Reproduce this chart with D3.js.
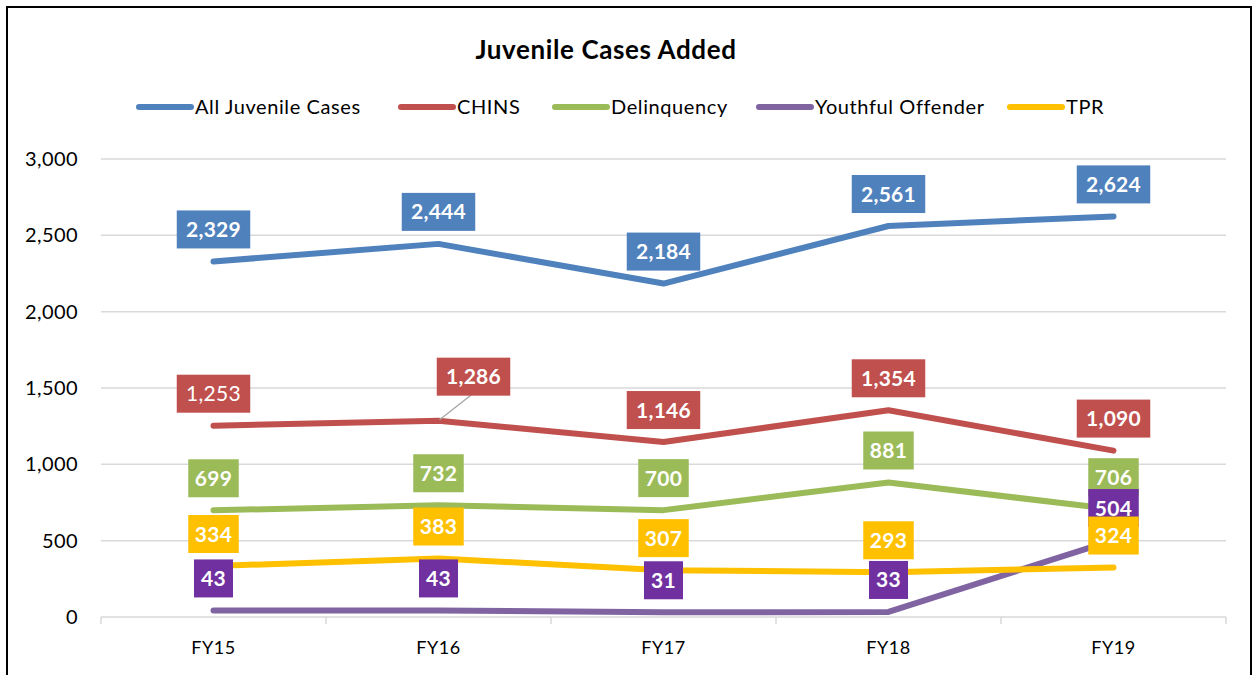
<!DOCTYPE html>
<html>
<head>
<meta charset="utf-8">
<script src="https://cdn.jsdelivr.net/npm/d3@7"></script>
<style>
  body { margin: 0; background: #fff; }
  svg { font-family: Lato, "Open Sans", sans-serif; }
</style>
</head>
<body>
<div class="chartHolder"></div>
<script>
// data
const years = ["FY15", "FY16", "FY17", "FY18", "FY19"];
const allCases = [2329, 2444, 2184, 2561, 2624];
const chins = [1253, 1286, 1146, 1354, 1090];
const delinquency = [699, 732, 700, 881, 706];
const youthful = [43, 43, 31, 33, 504];
const tpr = [334, 383, 307, 293, 324];
const yTicks = [0, 500, 1000, 1500, 2000, 2500, 3000];

const series = [
  { name: "All Juvenile Cases", values: allCases, line: "#4F81BD", box: "#4F81BD" },
  { name: "CHINS", values: chins, line: "#C0504D", box: "#C0504D" },
  { name: "Delinquency", values: delinquency, line: "#9BBB59", box: "#9BBB59" },
  { name: "Youthful Offender", values: youthful, line: "#8064A2", box: "#7030A0" },
  { name: "TPR", values: tpr, line: "#FFC000", box: "#FFC000" }
];

const w = 1253, h = 675;
const margin = { top: 159, right: 27, bottom: 58, left: 101 };
const width = w - margin.left - margin.right;
const height = h - margin.top - margin.bottom;

const root = d3.select(".chartHolder").append("svg")
  .attr("width", w)
  .attr("height", h);

// outer frame
root.append("rect")
  .attr("x", 7).attr("y", 7)
  .attr("width", 1244).attr("height", 680)
  .attr("fill", "none")
  .attr("stroke", "#000")
  .attr("stroke-width", 2);

// title
root.append("text")
  .attr("x", 606).attr("y", 59)
  .attr("text-anchor", "middle")
  .attr("font-size", 26)
  .attr("letter-spacing", 0.6)
  .attr("font-weight", "bold")
  .text("Juvenile Cases Added");

// legend
const legendX = [136, 398, 552, 756, 1007];
const legend = root.append("g");
series.forEach((s, i) => {
  const g = legend.append("g").attr("transform", `translate(${legendX[i]},107)`);
  g.append("line")
    .attr("x1", 3).attr("x2", 55)
    .attr("stroke", s.line)
    .attr("stroke-width", 6)
    .attr("stroke-linecap", "round");
  g.append("text")
    .attr("x", 59).attr("y", 7)
    .attr("font-size", 20)
    .attr("letter-spacing", 0.6)
    .attr("fill", "#000")
    .text(s.name);
});

const svg = root.append("g")
  .attr("transform", `translate(${margin.left},${margin.top})`);

const xScale = d3.scaleBand().domain(years).range([0, width]);
const yScale = d3.scaleLinear().domain([0, 3000]).range([height, 0]);
const xc = d => xScale(d) + xScale.bandwidth() / 2;

// gridlines
svg.append("g")
  .selectAll("line")
  .data(yTicks.filter(t => t > 0))
  .enter().append("line")
  .attr("x1", 0).attr("x2", width)
  .attr("y1", d => yScale(d)).attr("y2", d => yScale(d))
  .attr("stroke", "#d9d9d9")
  .attr("stroke-width", 1.5);

// y axis labels
const yAxis = svg.append("g")
  .call(d3.axisLeft(yScale).tickValues(yTicks).tickFormat(d3.format(",")).tickSize(0).tickPadding(23));
yAxis.select(".domain").remove();
yAxis.selectAll("text")
  .attr("font-size", 20)
  .attr("letter-spacing", 0.4)
  .attr("font-family", "Lato, sans-serif")
  .attr("fill", "#000");

// x axis with category boundary ticks
svg.append("line")
  .attr("x1", 0).attr("x2", width)
  .attr("y1", height).attr("y2", height)
  .attr("stroke", "#d9d9d9").attr("stroke-width", 1.5);
svg.append("g")
  .selectAll("line")
  .data(d3.range(years.length + 1))
  .enter().append("line")
  .attr("x1", i => i * xScale.bandwidth()).attr("x2", i => i * xScale.bandwidth())
  .attr("y1", height).attr("y2", height + 7)
  .attr("stroke", "#d9d9d9").attr("stroke-width", 1.5);
svg.append("g")
  .selectAll("text")
  .data(years)
  .enter().append("text")
  .attr("x", d => xc(d))
  .attr("y", height + 37)
  .attr("text-anchor", "middle")
  .attr("font-size", 18)
  .attr("letter-spacing", 0.5)
  .attr("fill", "#000")
  .text(d => d);

// lines
const line = d3.line()
  .x((d, i) => xc(years[i]))
  .y(d => yScale(d));
series.forEach(s => {
  svg.append("path")
    .datum(s.values)
    .attr("d", line)
    .attr("fill", "none")
    .attr("stroke", s.line)
    .attr("stroke-width", 6)
    .attr("stroke-linecap", "round")
    .attr("stroke-linejoin", "round");
});

// leader line for the moved CHINS FY16 label
const moved = { s: 1, i: 1, dx: 35, dy: -44 };
svg.append("line")
  .attr("x1", xc(years[moved.i]) + 1)
  .attr("y1", yScale(series[moved.s].values[moved.i]) - 1)
  .attr("x2", xc(years[moved.i]) + 33)
  .attr("y2", yScale(series[moved.s].values[moved.i]) - 26)
  .attr("stroke", "#a6a6a6")
  .attr("stroke-width", 1.3);

// data labels
const fmt = d3.format(",");
series.forEach((s, si) => {
  s.values.forEach((v, i) => {
    let cx = xc(years[i]);
    let cy = yScale(v) - 32;
    if (si === moved.s && i === moved.i) {
      cx += moved.dx;
      cy = yScale(v) + moved.dy;
    }
    const txt = fmt(v);
    const bw = txt.length * 11.5 + 16;
    const bh = 38;
    const g = svg.append("g").attr("transform", `translate(${cx},${cy})`);
    g.append("rect")
      .attr("x", -bw / 2).attr("y", -bh / 2)
      .attr("width", bw).attr("height", bh)
      .attr("fill", s.box);
    g.append("text")
      .attr("y", 7.5)
      .attr("text-anchor", "middle")
      .attr("font-size", 21)
      .attr("letter-spacing", 0.3)
      .attr("font-weight", (si === 1 && i === 0) ? "normal" : "bold")
      .attr("fill", "#fff")
      .text(txt);
  });
});
</script>
</body>
</html>
